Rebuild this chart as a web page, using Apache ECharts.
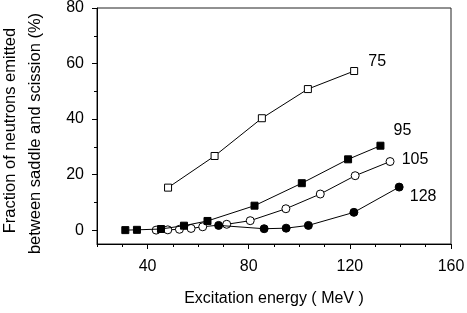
<!DOCTYPE html>
<html><head><meta charset="utf-8">
<script src="https://cdn.jsdelivr.net/npm/echarts@6/dist/echarts.min.js"></script>
<style>html,body{margin:0;padding:0;background:#fff}#c{width:467px;height:313px}</style>
</head><body><div id="c"></div>
<script>
var seriesNames = ['75', '95', '105', '128'];
var energy75 = [48.1, 66.5, 85.2, 103.4, 121.7];
var frac75   = [15.3, 26.7, 40.3, 50.8, 57.3];
var energy95 = [31.2, 35.8, 45.3, 54.4, 63.7, 82.3, 101.0, 119.3, 132.1];
var frac95   = [0.0, 0.1, 0.4, 1.6, 3.3, 8.8, 16.9, 25.5, 30.4];
var energy105 = [43.4, 48.0, 52.6, 57.2, 61.8, 71.3, 80.6, 94.7, 108.3, 122.1, 135.9];
var frac105   = [0.0, 0.1, 0.3, 0.6, 1.2, 2.1, 3.4, 7.7, 13.0, 19.6, 24.7];
var energy128 = [68.1, 86.1, 94.8, 103.6, 121.6, 139.5];
var frac128   = [1.7, 0.5, 0.7, 1.7, 6.4, 15.5];
var xLabels = [40, 80, 120, 160];
var xMinor = [20, 30, 50, 60, 70, 90, 100, 110, 130, 140, 150];
var yLabels = [0, 20, 40, 60, 80];
var yMinor = [10, 30, 50, 70];
var xTitle = 'Excitation energy ( MeV )';
var yTitleLines = ['Fraction of neutrons emitted', 'between saddle and scission (%)'];

var FONT = 'Liberation Sans, Arial, sans-serif';
function pairs(xs, ys) { return xs.map(function (x, i) { return [x, ys[i]]; }); }
function withLabel(data, name, off) {
  var last = data.length - 1;
  return data.map(function (d, i) {
    if (i !== last) return d;
    return { value: d, label: { show: true, formatter: name, position: 'inside', offset: off,
      color: '#000', fontSize: 16, fontFamily: FONT } };
  });
}
var black = '#000';
function mkSeries(name, xs, ys, symbol, filled, size, off, z) {
  return {
    type: 'line', name: name, z: z,
    data: withLabel(pairs(xs, ys), name, off),
    symbol: symbol, symbolSize: size, showSymbol: true,
    lineStyle: { color: black, width: 1 },
    itemStyle: { color: filled ? black : '#fff', borderColor: black, borderWidth: 1 },
    emphasis: { disabled: true },
    animation: false
  };
}
function yTitleText(text, cx, cy) {
  return { type: 'text', x: cx, y: cy, rotation: Math.PI / 2, silent: true,
    style: { text: text, font: '16.5px ' + FONT, fill: black,
      textAlign: 'center', textVerticalAlign: 'middle', align: 'center', verticalAlign: 'middle' } };
}
var chart = echarts.init(document.getElementById('c'), null, { renderer: 'canvas' });
chart.setOption({
  animation: false,
  grid: { left: 97, top: 8, width: 354, height: 236, show: true, borderColor: '#222', borderWidth: 1,
    backgroundColor: 'transparent', containLabel: false, outerBoundsMode: 'none' },
  graphic: [
    yTitleText(yTitleLines[0], 10, 130.5),
    yTitleText(yTitleLines[1], 35, 133.5)
  ],
  xAxis: [
    { type: 'value', min: 20, max: 160, position: 'bottom',
      name: xTitle, nameLocation: 'middle', nameGap: 47,
      nameTextStyle: { color: black, fontSize: 16, fontFamily: FONT },
      axisLine: { show: true, onZero: false, lineStyle: { color: black, width: 1 } },
      axisTick: { show: true, inside: false, length: 5, customValues: xLabels, lineStyle: { color: black } },
      axisLabel: { show: true, customValues: xLabels, margin: 15, color: black, fontSize: 16, fontFamily: FONT },
      splitLine: { show: false } },
    { type: 'value', min: 20, max: 160, position: 'bottom', offset: 0,
      axisLine: { show: false, onZero: false },
      axisTick: { show: true, inside: false, length: 3, customValues: xMinor, lineStyle: { color: black } },
      axisLabel: { show: false },
      splitLine: { show: false } }
  ],
  yAxis: [
    { type: 'value', min: -5, max: 80, position: 'left',
      axisLine: { show: true, onZero: false, lineStyle: { color: black, width: 1 } },
      axisTick: { show: true, inside: false, length: 5, customValues: yLabels, lineStyle: { color: black } },
      axisLabel: { show: true, customValues: yLabels, margin: 13, color: black, fontSize: 16, fontFamily: FONT },
      splitLine: { show: false } },
    { type: 'value', min: -5, max: 80, position: 'left', offset: 0,
      axisLine: { show: false, onZero: false },
      axisTick: { show: true, inside: false, length: 3, customValues: yMinor, lineStyle: { color: black } },
      axisLabel: { show: false },
      splitLine: { show: false } }
  ],
  series: [
    mkSeries(seriesNames[0], energy75, frac75, 'rect', false, 7, [23, -9], 2),
    mkSeries(seriesNames[2], energy105, frac105, 'circle', false, 8, [25, -2], 3),
    mkSeries(seriesNames[1], energy95, frac95, 'rect', true, 7, [22, -15], 4),
    mkSeries(seriesNames[3], energy128, frac128, 'circle', true, 8, [24, 10], 5)
  ]
});
</script></body></html>
